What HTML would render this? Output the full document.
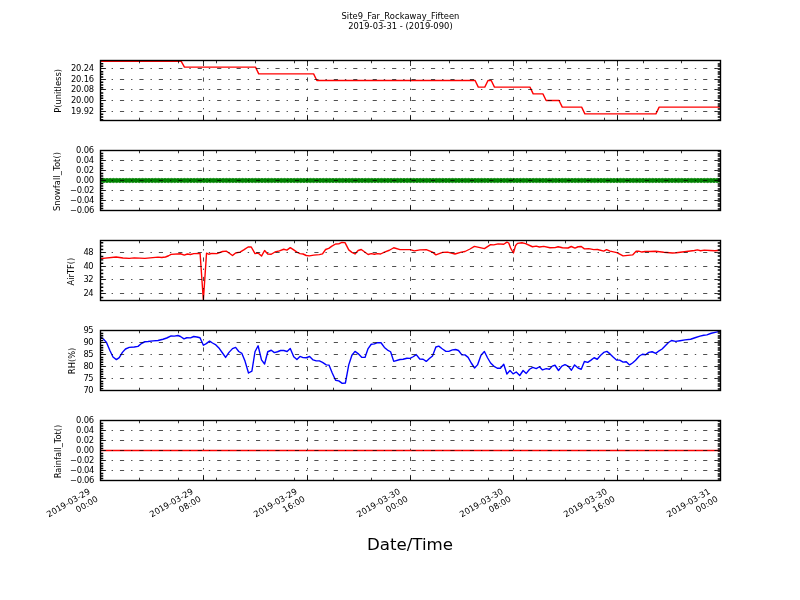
<!DOCTYPE html>
<html lang="en"><head><meta charset="utf-8"><title>Site9_Far_Rockaway_Fifteen</title>
<style>html,body{margin:0;padding:0;background:#fff;overflow:hidden}svg text{white-space:pre}</style></head>
<body>
<div style="will-change:transform;width:800px;height:600px">
<svg width="800" height="600" viewBox="0 0 800 600" style="display:block;font-family:'DejaVu Sans','Liberation Sans',sans-serif">
<rect width="800" height="600" fill="#fff"/>
<g font-size="8.33" fill="#000" text-anchor="middle">
<text x="400.4" y="18.7" textLength="118" lengthAdjust="spacing">Site9_Far_Rockaway_Fifteen</text>
<text x="400.4" y="29.0" textLength="104.5" lengthAdjust="spacing">2019-03-31 - (2019-090)</text>
</g>
<g>
<clipPath id="c0"><rect x="100.5" y="60.5" width="620" height="60"/></clipPath>
<path d="M100.50 61.30L103.73 61.30L106.96 61.30L110.19 61.30L113.42 61.30L116.65 61.30L119.88 61.30L123.10 61.30L126.33 61.30L129.56 61.30L132.79 61.30L136.02 61.30L139.25 61.30L142.48 61.30L145.71 61.30L148.94 61.30L152.17 61.30L155.40 61.30L158.62 61.30L161.85 61.30L165.08 61.30L168.31 61.30L171.54 61.30L174.77 61.30L178.00 61.30L181.23 61.30L184.46 67.17L187.69 67.17L190.92 67.17L194.15 67.17L197.38 67.17L200.60 67.17L203.83 67.17L207.06 67.17L210.29 67.17L213.52 67.17L216.75 67.17L219.98 67.17L223.21 67.17L226.44 67.17L229.67 67.17L232.90 67.17L236.12 67.17L239.35 67.17L242.58 67.17L245.81 67.17L249.04 67.17L252.27 67.17L255.50 67.17L258.73 73.83L261.96 73.83L265.19 73.83L268.42 73.83L271.65 73.83L274.88 73.83L278.10 73.83L281.33 73.83L284.56 73.83L287.79 73.83L291.02 73.83L294.25 73.83L297.48 73.83L300.71 73.83L303.94 73.83L307.17 73.83L310.40 73.83L313.62 73.83L316.85 80.50L320.08 80.50L323.31 80.50L326.54 80.50L329.77 80.50L333.00 80.50L336.23 80.50L339.46 80.50L342.69 80.50L345.92 80.50L349.15 80.50L352.38 80.50L355.60 80.50L358.83 80.50L362.06 80.50L365.29 80.50L368.52 80.50L371.75 80.50L374.98 80.50L378.21 80.50L381.44 80.50L384.67 80.50L387.90 80.50L391.12 80.50L394.35 80.50L397.58 80.50L400.81 80.50L404.04 80.50L407.27 80.50L410.50 80.50L413.73 80.50L416.96 80.50L420.19 80.50L423.42 80.50L426.65 80.50L429.88 80.50L433.10 80.50L436.33 80.50L439.56 80.50L442.79 80.50L446.02 80.50L449.25 80.50L452.48 80.50L455.71 80.50L458.94 80.50L462.17 80.50L465.40 80.50L468.62 80.50L471.85 80.50L475.08 80.50L478.31 87.17L481.54 87.17L484.77 87.17L488.00 80.50L491.23 80.50L494.46 87.17L497.69 87.17L500.92 87.17L504.15 87.17L507.38 87.17L510.60 87.17L513.83 87.17L517.06 87.17L520.29 87.17L523.52 87.17L526.75 87.17L529.98 87.17L533.21 93.83L536.44 93.83L539.67 93.83L542.90 93.83L546.12 100.50L549.35 100.50L552.58 100.50L555.81 100.50L559.04 100.50L562.27 107.17L565.50 107.17L568.73 107.17L571.96 107.17L575.19 107.17L578.42 107.17L581.65 107.17L584.88 113.83L588.10 113.83L591.33 113.83L594.56 113.83L597.79 113.83L601.02 113.83L604.25 113.83L607.48 113.83L610.71 113.83L613.94 113.83L617.17 113.83L620.40 113.83L623.62 113.83L626.85 113.83L630.08 113.83L633.31 113.83L636.54 113.83L639.77 113.83L643.00 113.83L646.23 113.83L649.46 113.83L652.69 113.83L655.92 113.83L659.15 107.17L662.38 107.17L665.60 107.17L668.83 107.17L672.06 107.17L675.29 107.17L678.52 107.17L681.75 107.17L684.98 107.17L688.21 107.17L691.44 107.17L694.67 107.17L697.90 107.17L701.12 107.17L704.35 107.17L707.58 107.17L710.81 107.17L714.04 107.17L717.27 107.17L720.50 107.17" stroke="#f00" stroke-width="1.39" fill="none" stroke-linejoin="round" clip-path="url(#c0)"/>
<path d="M100.50 68.50H720.50M100.50 79.50H720.50M100.50 89.50H720.50M100.50 100.50H720.50M100.50 111.50H720.50M100.50 120.50V60.50M203.50 120.50V60.50M307.50 120.50V60.50M410.50 120.50V60.50M513.50 120.50V60.50M617.50 120.50V60.50M720.50 120.50V60.50" stroke="#000" stroke-width="0.69" stroke-dasharray="4.17 6.94 1.39 6.94" fill="none"/>
<path d="M100.50 68.50h5.56M720.50 68.50h-5.56M720.50 69.50h-2.78M100.50 79.50h5.56M720.50 79.50h-5.56M720.50 80.50h-2.78M100.50 89.50h5.56M720.50 89.50h-5.56M720.50 90.50h-2.78M100.50 100.50h5.56M720.50 100.50h-5.56M720.50 101.50h-2.78M100.50 111.50h5.56M720.50 111.50h-5.56M720.50 112.50h-2.78M100.50 120.50v-5.56M100.50 60.50v5.56M203.50 120.50v-5.56M203.50 60.50v5.56M307.50 120.50v-5.56M307.50 60.50v5.56M410.50 120.50v-5.56M410.50 60.50v5.56M513.50 120.50v-5.56M513.50 60.50v5.56M617.50 120.50v-5.56M617.50 60.50v5.56M720.50 120.50v-5.56M720.50 60.50v5.56M139.50 120.50v-2.78M139.50 60.50v2.78M178.50 120.50v-2.78M178.50 60.50v2.78M216.50 120.50v-2.78M216.50 60.50v2.78M255.50 120.50v-2.78M255.50 60.50v2.78M294.50 120.50v-2.78M294.50 60.50v2.78M333.50 120.50v-2.78M333.50 60.50v2.78M371.50 120.50v-2.78M371.50 60.50v2.78M449.50 120.50v-2.78M449.50 60.50v2.78M488.50 120.50v-2.78M488.50 60.50v2.78M526.50 120.50v-2.78M526.50 60.50v2.78M565.50 120.50v-2.78M565.50 60.50v2.78M604.50 120.50v-2.78M604.50 60.50v2.78M643.50 120.50v-2.78M643.50 60.50v2.78M681.50 120.50v-2.78M681.50 60.50v2.78" stroke="#000" stroke-width="0.78" fill="none"/>
<path d="M100.50 119.67h2.78M100.50 117.00h2.78M100.50 114.33h2.78M100.50 109.00h2.78M100.50 106.33h2.78M100.50 103.67h2.78M100.50 98.33h2.78M100.50 95.67h2.78M100.50 93.00h2.78M100.50 87.67h2.78M100.50 85.00h2.78M100.50 82.33h2.78M100.50 77.00h2.78M100.50 74.33h2.78M100.50 71.67h2.78M100.50 66.33h2.78M100.50 63.67h2.78" stroke="#000" stroke-width="1.45" fill="none" clip-path="url(#c0)"/>
<path d="M720.50 120.00h-2.78M720.50 117.00h-2.78M720.50 114.00h-2.78M720.50 109.00h-2.78M720.50 106.00h-2.78M720.50 104.00h-2.78M720.50 98.00h-2.78M720.50 96.00h-2.78M720.50 93.00h-2.78M720.50 88.00h-2.78M720.50 85.00h-2.78M720.50 82.00h-2.78M720.50 77.00h-2.78M720.50 74.00h-2.78M720.50 72.00h-2.78M720.50 66.00h-2.78M720.50 64.00h-2.78" stroke="#000" stroke-width="1.55" fill="none" clip-path="url(#c0)"/>
<rect x="100.50" y="60.50" width="620.00" height="60.00" fill="none" stroke="#000" stroke-width="1.39"/>
<g font-size="8.33" fill="#000" text-anchor="end">
<text x="94.00" y="70.80" letter-spacing="-0.15">20.24</text>
<text x="94.00" y="81.80" letter-spacing="-0.15">20.16</text>
<text x="94.00" y="91.80" letter-spacing="-0.15">20.08</text>
<text x="94.00" y="102.80" letter-spacing="-0.15">20.00</text>
<text x="94.00" y="113.80" letter-spacing="-0.15">19.92</text>
</g>
<text font-size="8.33" fill="#000" text-anchor="middle" transform="translate(60.90 90.90) rotate(-90)">P(unitless)</text>
</g>
<g>
<clipPath id="c1"><rect x="100.5" y="150.5" width="620" height="60"/></clipPath>
<g fill="#008000" stroke="#008000" stroke-width="0.69" clip-path="url(#c1)"><circle cx="100.50" cy="180.5" r="2.15"/><circle cx="103.73" cy="180.5" r="2.15"/><circle cx="106.96" cy="180.5" r="2.15"/><circle cx="110.19" cy="180.5" r="2.15"/><circle cx="113.42" cy="180.5" r="2.15"/><circle cx="116.65" cy="180.5" r="2.15"/><circle cx="119.88" cy="180.5" r="2.15"/><circle cx="123.10" cy="180.5" r="2.15"/><circle cx="126.33" cy="180.5" r="2.15"/><circle cx="129.56" cy="180.5" r="2.15"/><circle cx="132.79" cy="180.5" r="2.15"/><circle cx="136.02" cy="180.5" r="2.15"/><circle cx="139.25" cy="180.5" r="2.15"/><circle cx="142.48" cy="180.5" r="2.15"/><circle cx="145.71" cy="180.5" r="2.15"/><circle cx="148.94" cy="180.5" r="2.15"/><circle cx="152.17" cy="180.5" r="2.15"/><circle cx="155.40" cy="180.5" r="2.15"/><circle cx="158.62" cy="180.5" r="2.15"/><circle cx="161.85" cy="180.5" r="2.15"/><circle cx="165.08" cy="180.5" r="2.15"/><circle cx="168.31" cy="180.5" r="2.15"/><circle cx="171.54" cy="180.5" r="2.15"/><circle cx="174.77" cy="180.5" r="2.15"/><circle cx="178.00" cy="180.5" r="2.15"/><circle cx="181.23" cy="180.5" r="2.15"/><circle cx="184.46" cy="180.5" r="2.15"/><circle cx="187.69" cy="180.5" r="2.15"/><circle cx="190.92" cy="180.5" r="2.15"/><circle cx="194.15" cy="180.5" r="2.15"/><circle cx="197.38" cy="180.5" r="2.15"/><circle cx="200.60" cy="180.5" r="2.15"/><circle cx="203.83" cy="180.5" r="2.15"/><circle cx="207.06" cy="180.5" r="2.15"/><circle cx="210.29" cy="180.5" r="2.15"/><circle cx="213.52" cy="180.5" r="2.15"/><circle cx="216.75" cy="180.5" r="2.15"/><circle cx="219.98" cy="180.5" r="2.15"/><circle cx="223.21" cy="180.5" r="2.15"/><circle cx="226.44" cy="180.5" r="2.15"/><circle cx="229.67" cy="180.5" r="2.15"/><circle cx="232.90" cy="180.5" r="2.15"/><circle cx="236.12" cy="180.5" r="2.15"/><circle cx="239.35" cy="180.5" r="2.15"/><circle cx="242.58" cy="180.5" r="2.15"/><circle cx="245.81" cy="180.5" r="2.15"/><circle cx="249.04" cy="180.5" r="2.15"/><circle cx="252.27" cy="180.5" r="2.15"/><circle cx="255.50" cy="180.5" r="2.15"/><circle cx="258.73" cy="180.5" r="2.15"/><circle cx="261.96" cy="180.5" r="2.15"/><circle cx="265.19" cy="180.5" r="2.15"/><circle cx="268.42" cy="180.5" r="2.15"/><circle cx="271.65" cy="180.5" r="2.15"/><circle cx="274.88" cy="180.5" r="2.15"/><circle cx="278.10" cy="180.5" r="2.15"/><circle cx="281.33" cy="180.5" r="2.15"/><circle cx="284.56" cy="180.5" r="2.15"/><circle cx="287.79" cy="180.5" r="2.15"/><circle cx="291.02" cy="180.5" r="2.15"/><circle cx="294.25" cy="180.5" r="2.15"/><circle cx="297.48" cy="180.5" r="2.15"/><circle cx="300.71" cy="180.5" r="2.15"/><circle cx="303.94" cy="180.5" r="2.15"/><circle cx="307.17" cy="180.5" r="2.15"/><circle cx="310.40" cy="180.5" r="2.15"/><circle cx="313.62" cy="180.5" r="2.15"/><circle cx="316.85" cy="180.5" r="2.15"/><circle cx="320.08" cy="180.5" r="2.15"/><circle cx="323.31" cy="180.5" r="2.15"/><circle cx="326.54" cy="180.5" r="2.15"/><circle cx="329.77" cy="180.5" r="2.15"/><circle cx="333.00" cy="180.5" r="2.15"/><circle cx="336.23" cy="180.5" r="2.15"/><circle cx="339.46" cy="180.5" r="2.15"/><circle cx="342.69" cy="180.5" r="2.15"/><circle cx="345.92" cy="180.5" r="2.15"/><circle cx="349.15" cy="180.5" r="2.15"/><circle cx="352.38" cy="180.5" r="2.15"/><circle cx="355.60" cy="180.5" r="2.15"/><circle cx="358.83" cy="180.5" r="2.15"/><circle cx="362.06" cy="180.5" r="2.15"/><circle cx="365.29" cy="180.5" r="2.15"/><circle cx="368.52" cy="180.5" r="2.15"/><circle cx="371.75" cy="180.5" r="2.15"/><circle cx="374.98" cy="180.5" r="2.15"/><circle cx="378.21" cy="180.5" r="2.15"/><circle cx="381.44" cy="180.5" r="2.15"/><circle cx="384.67" cy="180.5" r="2.15"/><circle cx="387.90" cy="180.5" r="2.15"/><circle cx="391.12" cy="180.5" r="2.15"/><circle cx="394.35" cy="180.5" r="2.15"/><circle cx="397.58" cy="180.5" r="2.15"/><circle cx="400.81" cy="180.5" r="2.15"/><circle cx="404.04" cy="180.5" r="2.15"/><circle cx="407.27" cy="180.5" r="2.15"/><circle cx="410.50" cy="180.5" r="2.15"/><circle cx="413.73" cy="180.5" r="2.15"/><circle cx="416.96" cy="180.5" r="2.15"/><circle cx="420.19" cy="180.5" r="2.15"/><circle cx="423.42" cy="180.5" r="2.15"/><circle cx="426.65" cy="180.5" r="2.15"/><circle cx="429.88" cy="180.5" r="2.15"/><circle cx="433.10" cy="180.5" r="2.15"/><circle cx="436.33" cy="180.5" r="2.15"/><circle cx="439.56" cy="180.5" r="2.15"/><circle cx="442.79" cy="180.5" r="2.15"/><circle cx="446.02" cy="180.5" r="2.15"/><circle cx="449.25" cy="180.5" r="2.15"/><circle cx="452.48" cy="180.5" r="2.15"/><circle cx="455.71" cy="180.5" r="2.15"/><circle cx="458.94" cy="180.5" r="2.15"/><circle cx="462.17" cy="180.5" r="2.15"/><circle cx="465.40" cy="180.5" r="2.15"/><circle cx="468.62" cy="180.5" r="2.15"/><circle cx="471.85" cy="180.5" r="2.15"/><circle cx="475.08" cy="180.5" r="2.15"/><circle cx="478.31" cy="180.5" r="2.15"/><circle cx="481.54" cy="180.5" r="2.15"/><circle cx="484.77" cy="180.5" r="2.15"/><circle cx="488.00" cy="180.5" r="2.15"/><circle cx="491.23" cy="180.5" r="2.15"/><circle cx="494.46" cy="180.5" r="2.15"/><circle cx="497.69" cy="180.5" r="2.15"/><circle cx="500.92" cy="180.5" r="2.15"/><circle cx="504.15" cy="180.5" r="2.15"/><circle cx="507.38" cy="180.5" r="2.15"/><circle cx="510.60" cy="180.5" r="2.15"/><circle cx="513.83" cy="180.5" r="2.15"/><circle cx="517.06" cy="180.5" r="2.15"/><circle cx="520.29" cy="180.5" r="2.15"/><circle cx="523.52" cy="180.5" r="2.15"/><circle cx="526.75" cy="180.5" r="2.15"/><circle cx="529.98" cy="180.5" r="2.15"/><circle cx="533.21" cy="180.5" r="2.15"/><circle cx="536.44" cy="180.5" r="2.15"/><circle cx="539.67" cy="180.5" r="2.15"/><circle cx="542.90" cy="180.5" r="2.15"/><circle cx="546.12" cy="180.5" r="2.15"/><circle cx="549.35" cy="180.5" r="2.15"/><circle cx="552.58" cy="180.5" r="2.15"/><circle cx="555.81" cy="180.5" r="2.15"/><circle cx="559.04" cy="180.5" r="2.15"/><circle cx="562.27" cy="180.5" r="2.15"/><circle cx="565.50" cy="180.5" r="2.15"/><circle cx="568.73" cy="180.5" r="2.15"/><circle cx="571.96" cy="180.5" r="2.15"/><circle cx="575.19" cy="180.5" r="2.15"/><circle cx="578.42" cy="180.5" r="2.15"/><circle cx="581.65" cy="180.5" r="2.15"/><circle cx="584.88" cy="180.5" r="2.15"/><circle cx="588.10" cy="180.5" r="2.15"/><circle cx="591.33" cy="180.5" r="2.15"/><circle cx="594.56" cy="180.5" r="2.15"/><circle cx="597.79" cy="180.5" r="2.15"/><circle cx="601.02" cy="180.5" r="2.15"/><circle cx="604.25" cy="180.5" r="2.15"/><circle cx="607.48" cy="180.5" r="2.15"/><circle cx="610.71" cy="180.5" r="2.15"/><circle cx="613.94" cy="180.5" r="2.15"/><circle cx="617.17" cy="180.5" r="2.15"/><circle cx="620.40" cy="180.5" r="2.15"/><circle cx="623.62" cy="180.5" r="2.15"/><circle cx="626.85" cy="180.5" r="2.15"/><circle cx="630.08" cy="180.5" r="2.15"/><circle cx="633.31" cy="180.5" r="2.15"/><circle cx="636.54" cy="180.5" r="2.15"/><circle cx="639.77" cy="180.5" r="2.15"/><circle cx="643.00" cy="180.5" r="2.15"/><circle cx="646.23" cy="180.5" r="2.15"/><circle cx="649.46" cy="180.5" r="2.15"/><circle cx="652.69" cy="180.5" r="2.15"/><circle cx="655.92" cy="180.5" r="2.15"/><circle cx="659.15" cy="180.5" r="2.15"/><circle cx="662.38" cy="180.5" r="2.15"/><circle cx="665.60" cy="180.5" r="2.15"/><circle cx="668.83" cy="180.5" r="2.15"/><circle cx="672.06" cy="180.5" r="2.15"/><circle cx="675.29" cy="180.5" r="2.15"/><circle cx="678.52" cy="180.5" r="2.15"/><circle cx="681.75" cy="180.5" r="2.15"/><circle cx="684.98" cy="180.5" r="2.15"/><circle cx="688.21" cy="180.5" r="2.15"/><circle cx="691.44" cy="180.5" r="2.15"/><circle cx="694.67" cy="180.5" r="2.15"/><circle cx="697.90" cy="180.5" r="2.15"/><circle cx="701.12" cy="180.5" r="2.15"/><circle cx="704.35" cy="180.5" r="2.15"/><circle cx="707.58" cy="180.5" r="2.15"/><circle cx="710.81" cy="180.5" r="2.15"/><circle cx="714.04" cy="180.5" r="2.15"/><circle cx="717.27" cy="180.5" r="2.15"/><circle cx="720.50" cy="180.5" r="2.15"/></g>
<path d="M100.50 150.50H720.50M100.50 160.50H720.50M100.50 170.50H720.50M100.50 180.50H720.50M100.50 190.50H720.50M100.50 200.50H720.50M100.50 210.50H720.50M100.50 210.50V150.50M203.50 210.50V150.50M307.50 210.50V150.50M410.50 210.50V150.50M513.50 210.50V150.50M617.50 210.50V150.50M720.50 210.50V150.50" stroke="#000" stroke-width="0.69" stroke-dasharray="4.17 6.94 1.39 6.94" fill="none"/>
<path d="M100.50 150.50h5.56M720.50 150.50h-5.56M720.50 151.50h-2.78M100.50 160.50h5.56M720.50 160.50h-5.56M720.50 161.50h-2.78M100.50 170.50h5.56M720.50 170.50h-5.56M720.50 171.50h-2.78M100.50 180.50h5.56M720.50 180.50h-5.56M720.50 181.50h-2.78M100.50 190.50h5.56M720.50 190.50h-5.56M720.50 191.50h-2.78M100.50 200.50h5.56M720.50 200.50h-5.56M720.50 201.50h-2.78M100.50 210.50h5.56M720.50 210.50h-5.56M100.50 210.50v-5.56M100.50 150.50v5.56M203.50 210.50v-5.56M203.50 150.50v5.56M307.50 210.50v-5.56M307.50 150.50v5.56M410.50 210.50v-5.56M410.50 150.50v5.56M513.50 210.50v-5.56M513.50 150.50v5.56M617.50 210.50v-5.56M617.50 150.50v5.56M720.50 210.50v-5.56M720.50 150.50v5.56M139.50 210.50v-2.78M139.50 150.50v2.78M178.50 210.50v-2.78M178.50 150.50v2.78M216.50 210.50v-2.78M216.50 150.50v2.78M255.50 210.50v-2.78M255.50 150.50v2.78M294.50 210.50v-2.78M294.50 150.50v2.78M333.50 210.50v-2.78M333.50 150.50v2.78M371.50 210.50v-2.78M371.50 150.50v2.78M449.50 210.50v-2.78M449.50 150.50v2.78M488.50 210.50v-2.78M488.50 150.50v2.78M526.50 210.50v-2.78M526.50 150.50v2.78M565.50 210.50v-2.78M565.50 150.50v2.78M604.50 210.50v-2.78M604.50 150.50v2.78M643.50 210.50v-2.78M643.50 150.50v2.78M681.50 210.50v-2.78M681.50 150.50v2.78" stroke="#000" stroke-width="0.78" fill="none"/>
<path d="M100.50 208.50h2.78M100.50 206.00h2.78M100.50 203.50h2.78M100.50 198.50h2.78M100.50 196.00h2.78M100.50 193.50h2.78M100.50 188.50h2.78M100.50 186.00h2.78M100.50 183.50h2.78M100.50 178.50h2.78M100.50 176.00h2.78M100.50 173.50h2.78M100.50 168.50h2.78M100.50 166.00h2.78M100.50 163.50h2.78M100.50 158.50h2.78M100.50 156.00h2.78M100.50 153.50h2.78" stroke="#000" stroke-width="1.45" fill="none" clip-path="url(#c1)"/>
<path d="M720.50 209.00h-2.78M720.50 206.00h-2.78M720.50 204.00h-2.78M720.50 199.00h-2.78M720.50 196.00h-2.78M720.50 194.00h-2.78M720.50 189.00h-2.78M720.50 186.00h-2.78M720.50 184.00h-2.78M720.50 179.00h-2.78M720.50 176.00h-2.78M720.50 174.00h-2.78M720.50 169.00h-2.78M720.50 166.00h-2.78M720.50 164.00h-2.78M720.50 159.00h-2.78M720.50 156.00h-2.78M720.50 154.00h-2.78" stroke="#000" stroke-width="1.55" fill="none" clip-path="url(#c1)"/>
<rect x="100.50" y="150.50" width="620.00" height="60.00" fill="none" stroke="#000" stroke-width="1.39"/>
<g font-size="8.33" fill="#000" text-anchor="end">
<text x="94.00" y="152.80" letter-spacing="-0.15">0.06</text>
<text x="94.00" y="162.80" letter-spacing="-0.15">0.04</text>
<text x="94.00" y="172.80" letter-spacing="-0.15">0.02</text>
<text x="94.00" y="182.80" letter-spacing="-0.15">0.00</text>
<text x="93.95" y="192.80" letter-spacing="-0.32">−0.02</text>
<text x="93.95" y="202.80" letter-spacing="-0.32">−0.04</text>
<text x="93.95" y="212.80" letter-spacing="-0.32">−0.06</text>
</g>
<text font-size="8.33" fill="#000" text-anchor="middle" textLength="59.2" lengthAdjust="spacing" transform="translate(59.70 181.50) rotate(-90)">Snowfall_Tot()</text>
</g>
<g>
<clipPath id="c2"><rect x="100.5" y="240.5" width="620" height="60"/></clipPath>
<path d="M100.50 258.60L116.10 257.00L123.00 258.00L129.25 258.40L134.25 257.90L144.90 258.40L158.00 257.10L161.75 257.50L165.50 257.00L168.60 255.75L171.10 254.40L180.50 253.75L184.25 255.10L187.40 254.00L190.50 254.50L193.75 253.60L200.10 253.50L203.35 300.30L206.55 253.10L208.75 254.25L211.90 253.40L216.90 253.60L222.50 251.50L226.25 251.10L229.40 253.25L232.50 255.50L235.60 253.00L240.00 252.10L243.75 249.90L248.10 247.00L251.25 247.00L255.00 253.60L258.10 253.00L261.50 256.10L264.60 250.50L267.75 254.00L271.25 254.25L275.00 252.00L279.40 250.90L283.75 249.25L286.90 250.10L290.25 247.60L293.75 249.90L296.90 252.10L300.00 253.60L303.10 254.00L306.25 255.50L309.40 255.90L313.75 255.10L319.40 254.60L322.50 253.90L325.60 249.50L328.75 248.40L331.90 246.10L335.60 244.00L338.75 243.90L341.90 242.40L345.00 242.60L348.75 249.90L351.90 252.40L355.00 254.00L358.10 250.50L361.25 249.50L364.40 251.75L368.10 254.50L371.25 253.60L374.40 254.25L377.50 253.60L380.60 254.00L384.40 252.10L389.40 250.25L393.75 247.75L400.00 249.60L410.00 249.60L414.40 250.90L420.00 249.90L426.25 249.60L432.50 252.10L435.90 254.90L442.50 252.40L447.50 252.10L455.00 254.00L461.25 252.10L465.00 251.50L470.00 249.00L474.40 246.40L480.00 247.60L484.40 248.60L490.60 244.60L493.75 244.90L498.10 243.90L503.75 244.25L506.90 242.10L508.75 243.00L510.60 248.00L513.40 253.00L515.60 245.50L517.50 243.40L521.90 242.75L525.60 243.60L532.50 246.75L536.25 246.10L539.40 247.00L543.75 246.40L550.00 247.75L555.00 247.60L558.10 246.75L562.50 247.75L568.10 248.00L571.25 246.50L575.00 248.10L578.10 246.75L581.25 246.50L584.40 248.90L588.75 248.60L593.75 249.60L597.50 249.50L603.75 251.10L606.60 249.60L610.00 251.10L616.90 252.60L623.10 255.90L632.60 254.90L636.10 251.30L638.75 251.10L641.90 252.05L645.00 251.45L650.00 251.50L655.60 251.25L663.75 252.25L672.50 253.00L676.25 252.75L686.25 251.50L694.40 250.50L697.50 249.90L700.60 250.75L704.40 250.10L710.00 250.50L715.00 250.75L720.50 250.25" stroke="#f00" stroke-width="1.39" fill="none" stroke-linejoin="round" clip-path="url(#c2)"/>
<path d="M100.50 252.50H720.50M100.50 266.50H720.50M100.50 279.50H720.50M100.50 293.50H720.50M100.50 300.50V240.50M203.50 300.50V240.50M307.50 300.50V240.50M410.50 300.50V240.50M513.50 300.50V240.50M617.50 300.50V240.50M720.50 300.50V240.50" stroke="#000" stroke-width="0.69" stroke-dasharray="4.17 6.94 1.39 6.94" fill="none"/>
<path d="M100.50 252.50h5.56M720.50 252.50h-5.56M720.50 253.50h-2.78M100.50 266.50h5.56M720.50 266.50h-5.56M720.50 267.50h-2.78M100.50 279.50h5.56M720.50 279.50h-5.56M720.50 280.50h-2.78M100.50 293.50h5.56M720.50 293.50h-5.56M720.50 294.50h-2.78M100.50 300.50v-5.56M100.50 240.50v5.56M203.50 300.50v-5.56M203.50 240.50v5.56M307.50 300.50v-5.56M307.50 240.50v5.56M410.50 300.50v-5.56M410.50 240.50v5.56M513.50 300.50v-5.56M513.50 240.50v5.56M617.50 300.50v-5.56M617.50 240.50v5.56M720.50 300.50v-5.56M720.50 240.50v5.56M139.50 300.50v-2.78M139.50 240.50v2.78M178.50 300.50v-2.78M178.50 240.50v2.78M216.50 300.50v-2.78M216.50 240.50v2.78M255.50 300.50v-2.78M255.50 240.50v2.78M294.50 300.50v-2.78M294.50 240.50v2.78M333.50 300.50v-2.78M333.50 240.50v2.78M371.50 300.50v-2.78M371.50 240.50v2.78M449.50 300.50v-2.78M449.50 240.50v2.78M488.50 300.50v-2.78M488.50 240.50v2.78M526.50 300.50v-2.78M526.50 240.50v2.78M565.50 300.50v-2.78M565.50 240.50v2.78M604.50 300.50v-2.78M604.50 240.50v2.78M643.50 300.50v-2.78M643.50 240.50v2.78M681.50 300.50v-2.78M681.50 240.50v2.78" stroke="#000" stroke-width="0.78" fill="none"/>
<path d="M100.50 297.57h2.78M100.50 290.71h2.78M100.50 287.29h2.78M100.50 283.86h2.78M100.50 277.00h2.78M100.50 273.57h2.78M100.50 270.14h2.78M100.50 263.29h2.78M100.50 259.86h2.78M100.50 256.43h2.78M100.50 249.57h2.78M100.50 246.14h2.78M100.50 242.71h2.78" stroke="#000" stroke-width="1.45" fill="none" clip-path="url(#c2)"/>
<path d="M720.50 298.00h-2.78M720.50 291.00h-2.78M720.50 287.00h-2.78M720.50 284.00h-2.78M720.50 277.00h-2.78M720.50 274.00h-2.78M720.50 270.00h-2.78M720.50 263.00h-2.78M720.50 260.00h-2.78M720.50 256.00h-2.78M720.50 250.00h-2.78M720.50 246.00h-2.78M720.50 243.00h-2.78" stroke="#000" stroke-width="1.55" fill="none" clip-path="url(#c2)"/>
<rect x="100.50" y="240.50" width="620.00" height="60.00" fill="none" stroke="#000" stroke-width="1.39"/>
<g font-size="8.33" fill="#000" text-anchor="end">
<text x="93.10" y="254.80" letter-spacing="-0.55">48</text>
<text x="93.10" y="268.80" letter-spacing="-0.55">40</text>
<text x="93.10" y="281.80" letter-spacing="-0.55">32</text>
<text x="93.10" y="295.80" letter-spacing="-0.55">24</text>
</g>
<text font-size="8.33" fill="#000" text-anchor="middle" transform="translate(74.10 271.60) rotate(-90)">AirTF()</text>
</g>
<g>
<clipPath id="c3"><rect x="100.5" y="330.5" width="620" height="60"/></clipPath>
<path d="M100.50 337.20L103.60 339.25L106.50 342.40L109.90 350.50L113.00 357.00L116.40 359.60L119.25 357.60L122.40 352.40L125.50 349.00L129.25 347.40L134.25 347.00L138.00 346.40L141.75 343.25L144.90 341.75L148.00 341.50L153.00 340.90L158.00 340.50L163.00 339.25L166.75 338.00L171.10 335.90L174.25 336.10L178.00 335.50L180.50 336.50L184.00 338.90L186.75 337.75L190.50 337.90L193.75 336.50L196.90 337.00L200.00 337.75L203.40 345.25L206.25 343.60L209.60 341.10L212.50 343.00L215.90 344.90L219.40 348.60L222.50 353.00L225.60 357.40L229.00 352.40L232.50 348.60L235.60 347.40L238.75 351.50L241.90 353.40L245.00 361.10L248.50 373.00L251.90 371.10L255.00 351.75L258.10 345.75L261.50 359.90L264.60 364.00L267.75 351.75L271.25 350.25L274.40 352.60L277.50 351.75L280.60 350.50L283.75 350.50L287.10 351.50L290.25 348.40L293.75 356.75L296.90 359.50L300.00 356.40L303.10 357.60L306.25 357.75L309.60 356.50L313.10 359.90L316.25 360.90L319.40 360.90L322.50 362.40L326.25 364.90L329.00 365.10L332.25 373.00L335.60 380.25L338.75 380.90L342.25 383.40L345.40 383.00L348.75 364.90L351.90 355.25L355.00 351.40L358.10 353.60L361.90 357.40L365.00 357.40L368.10 348.60L371.25 344.25L374.40 343.90L377.50 342.60L381.00 342.75L384.40 347.40L387.50 350.10L390.60 351.75L393.75 361.40L400.00 359.50L403.10 359.25L406.90 358.25L410.00 358.40L413.10 356.75L416.25 354.60L419.75 359.00L423.10 359.25L426.25 361.40L429.40 358.60L432.50 355.90L435.90 347.00L438.75 346.10L442.50 349.00L445.90 351.40L448.75 351.40L452.50 349.90L455.60 349.50L458.50 350.50L461.90 354.90L465.00 354.90L468.10 357.40L471.25 363.00L474.60 368.00L477.50 364.90L481.00 355.25L484.40 351.50L487.50 357.75L490.60 363.00L493.75 366.10L497.25 368.25L500.40 368.25L503.75 364.25L506.90 374.00L510.00 370.50L513.10 373.90L516.25 372.00L519.75 375.50L523.10 370.50L526.25 373.40L529.60 369.25L532.75 367.40L536.25 368.60L539.40 366.75L542.50 369.90L546.25 368.60L549.40 369.25L552.25 366.10L555.00 365.25L558.50 370.50L561.90 366.10L565.00 364.60L568.10 366.10L571.40 370.25L574.60 364.90L578.10 368.00L581.25 369.25L584.40 361.50L587.75 362.40L591.00 360.10L594.10 357.75L597.25 359.25L600.40 355.50L603.75 352.40L606.90 351.40L610.00 353.90L613.10 357.10L616.50 360.10L619.60 360.10L623.10 362.10L626.25 361.75L629.60 364.90L632.50 363.00L635.60 360.25L639.40 356.00L642.40 354.25L645.60 354.75L648.75 352.40L652.10 351.75L655.80 353.40L659.10 350.80L662.10 349.00L665.30 345.70L668.50 342.50L671.50 340.50L675.60 341.40L680.00 340.75L685.00 339.90L690.60 339.25L695.00 337.75L700.00 336.10L703.75 335.25L706.90 334.90L711.25 333.25L716.25 332.10L720.50 331.10" stroke="#00f" stroke-width="1.39" fill="none" stroke-linejoin="round" clip-path="url(#c3)"/>
<path d="M100.50 330.50H720.50M100.50 342.50H720.50M100.50 354.50H720.50M100.50 366.50H720.50M100.50 378.50H720.50M100.50 390.50H720.50M100.50 390.50V330.50M203.50 390.50V330.50M307.50 390.50V330.50M410.50 390.50V330.50M513.50 390.50V330.50M617.50 390.50V330.50M720.50 390.50V330.50" stroke="#000" stroke-width="0.69" stroke-dasharray="4.17 6.94 1.39 6.94" fill="none"/>
<path d="M100.50 330.50h5.56M720.50 330.50h-5.56M720.50 331.50h-2.78M100.50 342.50h5.56M720.50 342.50h-5.56M720.50 343.50h-2.78M100.50 354.50h5.56M720.50 354.50h-5.56M720.50 355.50h-2.78M100.50 366.50h5.56M720.50 366.50h-5.56M720.50 367.50h-2.78M100.50 378.50h5.56M720.50 378.50h-5.56M720.50 379.50h-2.78M100.50 390.50h5.56M720.50 390.50h-5.56M100.50 390.50v-5.56M100.50 330.50v5.56M203.50 390.50v-5.56M203.50 330.50v5.56M307.50 390.50v-5.56M307.50 330.50v5.56M410.50 390.50v-5.56M410.50 330.50v5.56M513.50 390.50v-5.56M513.50 330.50v5.56M617.50 390.50v-5.56M617.50 330.50v5.56M720.50 390.50v-5.56M720.50 330.50v5.56M139.50 390.50v-2.78M139.50 330.50v2.78M178.50 390.50v-2.78M178.50 330.50v2.78M216.50 390.50v-2.78M216.50 330.50v2.78M255.50 390.50v-2.78M255.50 330.50v2.78M294.50 390.50v-2.78M294.50 330.50v2.78M333.50 390.50v-2.78M333.50 330.50v2.78M371.50 390.50v-2.78M371.50 330.50v2.78M449.50 390.50v-2.78M449.50 330.50v2.78M488.50 390.50v-2.78M488.50 330.50v2.78M526.50 390.50v-2.78M526.50 330.50v2.78M565.50 390.50v-2.78M565.50 330.50v2.78M604.50 390.50v-2.78M604.50 330.50v2.78M643.50 390.50v-2.78M643.50 330.50v2.78M681.50 390.50v-2.78M681.50 330.50v2.78" stroke="#000" stroke-width="0.78" fill="none"/>
<path d="M100.50 388.60h2.78M100.50 386.20h2.78M100.50 383.80h2.78M100.50 381.40h2.78M100.50 376.60h2.78M100.50 374.20h2.78M100.50 371.80h2.78M100.50 369.40h2.78M100.50 364.60h2.78M100.50 362.20h2.78M100.50 359.80h2.78M100.50 357.40h2.78M100.50 352.60h2.78M100.50 350.20h2.78M100.50 347.80h2.78M100.50 345.40h2.78M100.50 340.60h2.78M100.50 338.20h2.78M100.50 335.80h2.78M100.50 333.40h2.78" stroke="#000" stroke-width="1.45" fill="none" clip-path="url(#c3)"/>
<path d="M720.50 389.00h-2.78M720.50 386.00h-2.78M720.50 384.00h-2.78M720.50 381.00h-2.78M720.50 377.00h-2.78M720.50 374.00h-2.78M720.50 372.00h-2.78M720.50 369.00h-2.78M720.50 365.00h-2.78M720.50 362.00h-2.78M720.50 360.00h-2.78M720.50 357.00h-2.78M720.50 353.00h-2.78M720.50 350.00h-2.78M720.50 348.00h-2.78M720.50 345.00h-2.78M720.50 341.00h-2.78M720.50 338.00h-2.78M720.50 336.00h-2.78M720.50 333.00h-2.78" stroke="#000" stroke-width="1.55" fill="none" clip-path="url(#c3)"/>
<rect x="100.50" y="330.50" width="620.00" height="60.00" fill="none" stroke="#000" stroke-width="1.39"/>
<g font-size="8.33" fill="#000" text-anchor="end">
<text x="93.10" y="332.80" letter-spacing="-0.55">95</text>
<text x="93.10" y="344.80" letter-spacing="-0.55">90</text>
<text x="93.10" y="356.80" letter-spacing="-0.55">85</text>
<text x="93.10" y="368.80" letter-spacing="-0.55">80</text>
<text x="93.10" y="380.80" letter-spacing="-0.55">75</text>
<text x="93.10" y="392.80" letter-spacing="-0.55">70</text>
</g>
<text font-size="8.33" fill="#000" text-anchor="middle" transform="translate(74.70 360.90) rotate(-90)">RH(%)</text>
</g>
<g>
<clipPath id="c4"><rect x="100.5" y="420.5" width="620" height="60"/></clipPath>
<path d="M100.5 450.5H720.5" stroke="#f00" stroke-width="1.39" fill="none"/>
<path d="M100.50 420.50H720.50M100.50 430.50H720.50M100.50 440.50H720.50M100.50 450.50H720.50M100.50 460.50H720.50M100.50 470.50H720.50M100.50 480.50H720.50M100.50 480.50V420.50M203.50 480.50V420.50M307.50 480.50V420.50M410.50 480.50V420.50M513.50 480.50V420.50M617.50 480.50V420.50M720.50 480.50V420.50" stroke="#000" stroke-width="0.69" stroke-dasharray="4.17 6.94 1.39 6.94" fill="none"/>
<path d="M100.50 420.50h5.56M720.50 420.50h-5.56M720.50 421.50h-2.78M100.50 430.50h5.56M720.50 430.50h-5.56M720.50 431.50h-2.78M100.50 440.50h5.56M720.50 440.50h-5.56M720.50 441.50h-2.78M100.50 450.50h5.56M720.50 450.50h-5.56M720.50 451.50h-2.78M100.50 460.50h5.56M720.50 460.50h-5.56M720.50 461.50h-2.78M100.50 470.50h5.56M720.50 470.50h-5.56M720.50 471.50h-2.78M100.50 480.50h5.56M720.50 480.50h-5.56M100.50 480.50v-5.56M100.50 420.50v5.56M203.50 480.50v-5.56M203.50 420.50v5.56M307.50 480.50v-5.56M307.50 420.50v5.56M410.50 480.50v-5.56M410.50 420.50v5.56M513.50 480.50v-5.56M513.50 420.50v5.56M617.50 480.50v-5.56M617.50 420.50v5.56M720.50 480.50v-5.56M720.50 420.50v5.56M139.50 480.50v-2.78M139.50 420.50v2.78M178.50 480.50v-2.78M178.50 420.50v2.78M216.50 480.50v-2.78M216.50 420.50v2.78M255.50 480.50v-2.78M255.50 420.50v2.78M294.50 480.50v-2.78M294.50 420.50v2.78M333.50 480.50v-2.78M333.50 420.50v2.78M371.50 480.50v-2.78M371.50 420.50v2.78M449.50 480.50v-2.78M449.50 420.50v2.78M488.50 480.50v-2.78M488.50 420.50v2.78M526.50 480.50v-2.78M526.50 420.50v2.78M565.50 480.50v-2.78M565.50 420.50v2.78M604.50 480.50v-2.78M604.50 420.50v2.78M643.50 480.50v-2.78M643.50 420.50v2.78M681.50 480.50v-2.78M681.50 420.50v2.78" stroke="#000" stroke-width="0.78" fill="none"/>
<path d="M100.50 478.50h2.78M100.50 476.00h2.78M100.50 473.50h2.78M100.50 468.50h2.78M100.50 466.00h2.78M100.50 463.50h2.78M100.50 458.50h2.78M100.50 456.00h2.78M100.50 453.50h2.78M100.50 448.50h2.78M100.50 446.00h2.78M100.50 443.50h2.78M100.50 438.50h2.78M100.50 436.00h2.78M100.50 433.50h2.78M100.50 428.50h2.78M100.50 426.00h2.78M100.50 423.50h2.78" stroke="#000" stroke-width="1.45" fill="none" clip-path="url(#c4)"/>
<path d="M720.50 479.00h-2.78M720.50 476.00h-2.78M720.50 474.00h-2.78M720.50 469.00h-2.78M720.50 466.00h-2.78M720.50 464.00h-2.78M720.50 459.00h-2.78M720.50 456.00h-2.78M720.50 454.00h-2.78M720.50 449.00h-2.78M720.50 446.00h-2.78M720.50 444.00h-2.78M720.50 439.00h-2.78M720.50 436.00h-2.78M720.50 434.00h-2.78M720.50 429.00h-2.78M720.50 426.00h-2.78M720.50 424.00h-2.78" stroke="#000" stroke-width="1.55" fill="none" clip-path="url(#c4)"/>
<rect x="100.50" y="420.50" width="620.00" height="60.00" fill="none" stroke="#000" stroke-width="1.39"/>
<g font-size="8.33" fill="#000" text-anchor="end">
<text x="94.00" y="422.80" letter-spacing="-0.15">0.06</text>
<text x="94.00" y="432.80" letter-spacing="-0.15">0.04</text>
<text x="94.00" y="442.80" letter-spacing="-0.15">0.02</text>
<text x="94.00" y="452.80" letter-spacing="-0.15">0.00</text>
<text x="93.95" y="462.80" letter-spacing="-0.32">−0.02</text>
<text x="93.95" y="472.80" letter-spacing="-0.32">−0.04</text>
<text x="93.95" y="482.80" letter-spacing="-0.32">−0.06</text>
</g>
<text font-size="8.33" fill="#000" text-anchor="middle" transform="translate(60.90 451.50) rotate(-90)">Rainfall_Tot()</text>
</g>
<g font-size="8.33" fill="#000" text-anchor="end">
<g transform="translate(100.50 486.5) rotate(-30)"><text x="-11.8" y="0.9">2019-03-29</text><text x="-8.7" y="11.35">00:00</text></g>
<g transform="translate(203.50 486.5) rotate(-30)"><text x="-11.8" y="0.9">2019-03-29</text><text x="-8.7" y="11.35">08:00</text></g>
<g transform="translate(307.50 486.5) rotate(-30)"><text x="-11.8" y="0.9">2019-03-29</text><text x="-8.7" y="11.35">16:00</text></g>
<g transform="translate(410.50 486.5) rotate(-30)"><text x="-11.8" y="0.9">2019-03-30</text><text x="-8.7" y="11.35">00:00</text></g>
<g transform="translate(513.50 486.5) rotate(-30)"><text x="-11.8" y="0.9">2019-03-30</text><text x="-8.7" y="11.35">08:00</text></g>
<g transform="translate(617.50 486.5) rotate(-30)"><text x="-11.8" y="0.9">2019-03-30</text><text x="-8.7" y="11.35">16:00</text></g>
<g transform="translate(720.50 486.5) rotate(-30)"><text x="-11.8" y="0.9">2019-03-31</text><text x="-8.7" y="11.35">00:00</text></g>
</g>
<text x="410" y="550" font-size="16.67" fill="#000" text-anchor="middle">Date/Time</text>
</svg>
</div>
</body></html>
